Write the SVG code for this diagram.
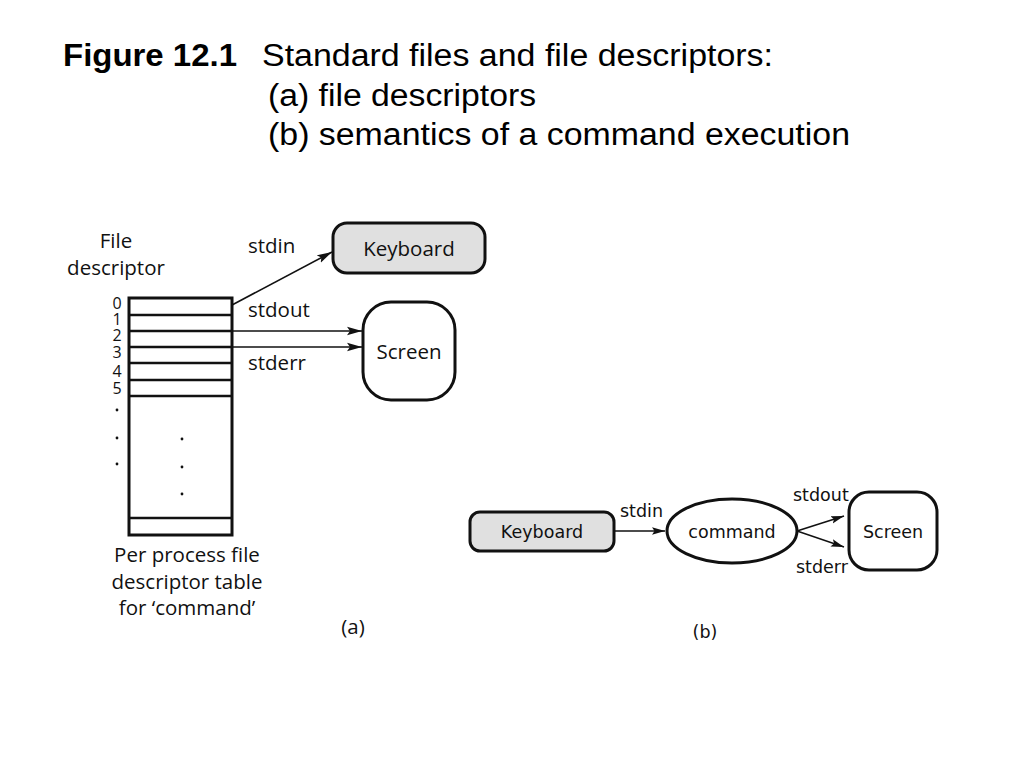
<svg xmlns="http://www.w3.org/2000/svg" width="1024" height="768" viewBox="0 0 1024 768">
<defs>
<style>
.title{font-family:"Liberation Sans",Arial,sans-serif;font-size:31px;fill:#000}
.ta{font-family:"Open Sans","Noto Sans",sans-serif;font-size:20.5px;fill:#111}
.tb{font-family:"DejaVu Sans",Verdana,sans-serif;font-size:17.5px;fill:#111}
.dig{font-family:"Open Sans","Noto Sans",sans-serif;font-size:16px;fill:#111;text-anchor:middle}
.box{stroke:#111;stroke-width:3;fill:#fff}
.gray{fill:#e0e0e0}
.ln{stroke:#111;stroke-width:1.6;fill:none}
.row{stroke:#111;stroke-width:2.5}
</style>
<marker id="ah" markerUnits="userSpaceOnUse" markerWidth="16" markerHeight="10" refX="15" refY="5" orient="auto">
<path d="M0,0.8 L15,5 L0,9.2 L3,5 z" fill="#111"/>
</marker>
<marker id="ahb" markerUnits="userSpaceOnUse" markerWidth="14" markerHeight="10" refX="13" refY="5" orient="auto">
<path d="M0,1.2 L13,5 L0,8.8 L2.5,5 z" fill="#111"/>
</marker>
</defs>
<rect width="1024" height="768" fill="#fff"/>
<g id="title">
<text class="title" x="63" y="66" font-weight="bold" textLength="174" lengthAdjust="spacingAndGlyphs">Figure 12.1</text>
<text class="title" x="262" y="66" textLength="511" lengthAdjust="spacingAndGlyphs">Standard files and file descriptors:</text>
<text class="title" x="268" y="106" textLength="268" lengthAdjust="spacingAndGlyphs">(a) file descriptors</text>
<text class="title" x="268" y="145" textLength="582" lengthAdjust="spacingAndGlyphs">(b) semantics of a command execution</text>
</g>
<g id="fd-table">
<text class="ta" x="116" y="248" text-anchor="middle">File</text>
<text class="ta" x="116" y="275" text-anchor="middle">descriptor</text>
<rect class="box" x="129" y="298" width="103" height="237" fill="#fff"/>
<line class="row" x1="129" y1="315" x2="232" y2="315"/>
<line class="row" x1="129" y1="331" x2="232" y2="331"/>
<line class="row" x1="129" y1="347" x2="232" y2="347"/>
<line class="row" x1="129" y1="363" x2="232" y2="363"/>
<line class="row" x1="129" y1="380" x2="232" y2="380"/>
<line class="row" x1="129" y1="396" x2="232" y2="396"/>
<line class="row" x1="129" y1="518" x2="232" y2="518"/>
<text class="dig" x="117" y="309">0</text>
<text class="dig" x="117" y="325">1</text>
<text class="dig" x="117" y="341">2</text>
<text class="dig" x="117" y="358">3</text>
<text class="dig" x="117" y="377">4</text>
<text class="dig" x="117" y="394">5</text>
<circle cx="117" cy="410" r="1.4" fill="#111"/>
<circle cx="117" cy="438" r="1.4" fill="#111"/>
<circle cx="117" cy="464" r="1.4" fill="#111"/>
<circle cx="182" cy="439" r="1.4" fill="#111"/>
<circle cx="182" cy="467" r="1.4" fill="#111"/>
<circle cx="182" cy="494" r="1.4" fill="#111"/>
<text class="ta" x="187" y="562" text-anchor="middle">Per process file</text>
<text class="ta" x="187" y="589" text-anchor="middle">descriptor table</text>
<text class="ta" x="187" y="615" text-anchor="middle">for ‘command’</text>
<text class="ta" x="353" y="634" text-anchor="middle">(a)</text>
</g>
<g id="keyboard-a">
<rect class="box gray" x="333" y="223" width="152" height="50" rx="14"/>
<text class="ta" x="409" y="256" text-anchor="middle">Keyboard</text>
</g>
<g id="screen-a">
<rect class="box" x="363" y="302" width="92" height="98" rx="28"/>
<text class="ta" x="409" y="359" text-anchor="middle">Screen</text>
</g>
<g id="keyboard-b">
<rect class="box gray" x="470" y="512" width="144" height="39" rx="10" stroke-width="2.5"/>
<text class="tb" x="542" y="538" text-anchor="middle">Keyboard</text>
</g>
<g id="command-b">
<ellipse class="box" cx="732" cy="531" rx="65" ry="32" stroke-width="2.5"/>
<text class="tb" x="732" y="538" text-anchor="middle">command</text>
</g>
<g id="screen-b">
<rect class="box" x="849" y="492" width="88" height="78" rx="20" stroke-width="2.5"/>
<text class="tb" x="893" y="538" text-anchor="middle">Screen</text>
</g>
<g id="connectors">
<line class="ln" x1="232" y1="305" x2="332" y2="252" marker-end="url(#ah)"/>
<line class="ln" x1="232" y1="331" x2="362" y2="331" marker-end="url(#ah)"/>
<line class="ln" x1="232" y1="347" x2="362" y2="347" marker-end="url(#ah)"/>
<line class="ln" x1="614" y1="531" x2="665" y2="531" marker-end="url(#ahb)"/>
<line class="ln" x1="797" y1="531" x2="844" y2="516" marker-end="url(#ahb)"/>
<line class="ln" x1="797" y1="531" x2="844" y2="547" marker-end="url(#ahb)"/>
</g>
<g id="labels">
<text class="ta" x="248" y="253">stdin</text>
<text class="ta" x="248" y="317">stdout</text>
<text class="ta" x="248" y="370">stderr</text>
<text class="tb" x="620" y="517">stdin</text>
<text class="tb" x="793" y="501">stdout</text>
<text class="tb" x="796" y="573">stderr</text>
<text class="tb" x="705" y="638" text-anchor="middle">(b)</text>
</g>
</svg>
